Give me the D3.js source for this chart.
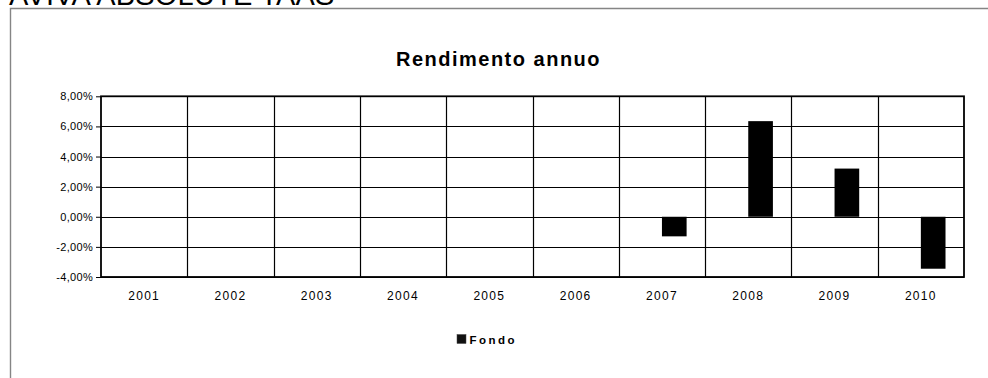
<!DOCTYPE html>
<html>
<head>
<meta charset="utf-8">
<script src="https://cdn.jsdelivr.net/npm/d3@7/dist/d3.min.js"></script>
<style>
  html, body { margin: 0; padding: 0; background: #fff; }
  svg { display: block; font-family: "Liberation Sans", Arial, sans-serif; }
</style>
</head>
<body>
<svg id="chart" width="988" height="378"></svg>
<script>
// Annual returns of the fund (percent); empty years have no value
const years = ["2001", "2002", "2003", "2004", "2005", "2006", "2007", "2008", "2009", "2010"];
const fondo = [null, null, null, null, null, null, -1.3, 6.35, 3.2, -3.45];
const yTicks = [-4, -2, 0, 2, 4, 6, 8];
const seriesName = "Fondo";
const chartTitle = "Rendimento annuo";
const pageTitle = "AVIVA ABSOLUTE TAAS";

const svg = d3.select("#chart");
const W = 988, H = 378;
const plot = { left: 101, right: 964, top: 96.3, bottom: 277 };

// Page heading, partly above the visible area
svg.append("text")
  .attr("x", 9).attr("y", 5)
  .attr("font-size", 29)
  .attr("letter-spacing", 0.2)
  .attr("fill", "#000")
  .text(pageTitle);

// Chart frame
svg.append("path")
  .attr("d", `M10.5,${H + 2} V8.5 H${W + 2}`)
  .attr("fill", "none")
  .attr("stroke", "#858585")
  .attr("stroke-width", 1.4);

// Title
svg.append("text")
  .attr("x", 498.5).attr("y", 66)
  .attr("text-anchor", "middle")
  .attr("font-size", 20)
  .attr("font-weight", "bold")
  .attr("letter-spacing", 1.5)
  .text(chartTitle);

const x = d3.scaleBand().domain(years).range([plot.left, plot.right]).padding(0);
const y = d3.scaleLinear().domain([-4, 8]).range([plot.bottom, plot.top]);

// Horizontal gridlines
svg.append("g").selectAll("line")
  .data(yTicks)
  .join("line")
  .attr("x1", plot.left).attr("x2", plot.right)
  .attr("y1", d => Math.round(y(d)) + 0.5).attr("y2", d => Math.round(y(d)) + 0.5)
  .attr("stroke", "#000").attr("stroke-width", 1.2);

// Vertical category separators
svg.append("g").selectAll("line")
  .data(years.slice(1))
  .join("line")
  .attr("x1", d => Math.round(x(d)) + 0.5).attr("x2", d => Math.round(x(d)) + 0.5)
  .attr("y1", plot.top).attr("y2", plot.bottom)
  .attr("stroke", "#000").attr("stroke-width", 1.2);

// Bars: the fund occupies the right slot of each category (gap width 150%)
const barW = x.bandwidth() / 3.5;
svg.append("g").selectAll("rect")
  .data(years.map((yr, i) => ({ yr, v: fondo[i] })).filter(d => d.v !== null))
  .join("rect")
  .attr("x", d => x(d.yr) + x.bandwidth() / 2)
  .attr("width", barW)
  .attr("y", d => y(Math.max(0, d.v)))
  .attr("height", d => Math.abs(y(d.v) - y(0)))
  .attr("fill", "#000");

// Plot border
svg.append("rect")
  .attr("x", plot.left).attr("y", plot.top)
  .attr("width", plot.right - plot.left).attr("height", plot.bottom - plot.top)
  .attr("fill", "none").attr("stroke", "#000").attr("stroke-width", 1.8);

// Y axis
const fmt = d => d.toFixed(2).replace(".", ",") + "%";
const yAxis = d3.axisLeft(y).tickValues(yTicks).tickFormat(fmt).tickSize(5).tickPadding(3);
const gy = svg.append("g").attr("transform", `translate(${plot.left},0)`).call(yAxis);
gy.select(".domain").remove();
gy.selectAll(".tick line").attr("stroke", "#000");
gy.selectAll(".tick text")
  .attr("font-family", "Liberation Sans, Arial, sans-serif")
  .attr("font-size", 11)
  .attr("letter-spacing", 0.3)
  .attr("fill", "#000");

// X axis labels
const xAxis = d3.axisBottom(x).tickSize(0).tickPadding(14);
const gx = svg.append("g").attr("transform", `translate(0,${plot.bottom})`).call(xAxis);
gx.select(".domain").remove();
gx.selectAll(".tick text")
  .attr("font-family", "Liberation Sans, Arial, sans-serif")
  .attr("font-size", 12)
  .attr("letter-spacing", 1.3)
  .attr("fill", "#000");

// Legend
const lg = svg.append("g").attr("transform", "translate(457,334.5)");
lg.append("rect").attr("width", 9).attr("height", 9)
  .attr("fill", "#111").attr("stroke", "#444").attr("stroke-width", 0.5);
lg.append("text")
  .attr("x", 12.5).attr("y", 9)
  .attr("font-size", 11.5)
  .attr("font-weight", "bold")
  .attr("letter-spacing", 2.5)
  .text(seriesName);
</script>
</body>
</html>
